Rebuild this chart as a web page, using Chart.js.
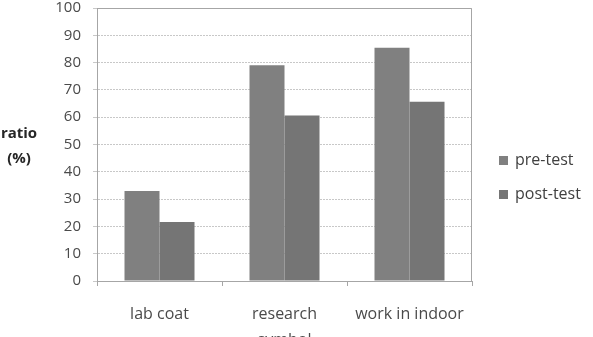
<!DOCTYPE html>
<html>
<head>
<meta charset="utf-8">
<script src="https://cdn.jsdelivr.net/npm/chart.js@4/dist/chart.umd.min.js"></script>
<style>
html,body{margin:0;padding:0;background:#fff;}
#wrap{position:relative;width:593px;height:337px;}
</style>
</head>
<body>
<div id="wrap"><canvas id="c" width="593" height="337"></canvas></div>
<script>
const categories = ['lab coat', ['research', 'symbol'], 'work in indoor'];
const seriesNames = ['pre-test', 'post-test'];
const preTest = [33, 79, 85.4];
const postTest = [21.6, 60.6, 65.7];
const yTicks = [0, 10, 20, 30, 40, 50, 60, 70, 80, 90, 100];
const yTitle = ['ratio', '(%)'];
const seriesColors = ['#808080', '#757575'];

const FONT = "'Open Sans', 'Liberation Sans', sans-serif";
const TXT = '#4a4a4a';

const frame = {
  id: 'frame',
  beforeDatasetsDraw(chart) {
    const {ctx, chartArea: a} = chart;
    ctx.save();
    ctx.strokeStyle = '#a6a6a6';
    ctx.lineWidth = 1;
    ctx.beginPath();
    ctx.moveTo(a.left, a.top + 0.5);
    ctx.lineTo(a.right - 0.5, a.top + 0.5);
    ctx.lineTo(a.right - 0.5, a.bottom);
    ctx.stroke();
    ctx.restore();
  },
  afterDraw(chart) {
    const {ctx, chartArea: a} = chart;
    ctx.save();
    // y-axis title (horizontal, two lines)
    ctx.fillStyle = '#262626';
    ctx.font = "bold 15px " + FONT;
    ctx.textAlign = 'center';
    ctx.textBaseline = 'middle';
    ctx.fillText(yTitle[0], 19, 134);
    ctx.fillText(yTitle[1], 19, 159);
    // legend
    ctx.font = "16px " + FONT;
    ctx.textAlign = 'left';
    chart.data.datasets.forEach((ds, i) => {
      const cy = 160.5 + i * 34;
      ctx.fillStyle = ds.backgroundColor;
      ctx.fillRect(499, cy - 4.5, 9, 9);
      ctx.fillStyle = '#404040';
      ctx.fillText(ds.label, 515, cy);
    });
    ctx.restore();
  }
};

new Chart(document.getElementById('c'), {
  type: 'bar',
  data: {
    labels: categories,
    datasets: [
      {label: seriesNames[0], data: preTest, backgroundColor: seriesColors[0], borderWidth: 0},
      {label: seriesNames[1], data: postTest, backgroundColor: seriesColors[1], borderWidth: 0}
    ]
  },
  options: {
    responsive: false,
    animation: false,
    layout: {padding: {top: 8, right: 121, left: 0, bottom: 0}},
    datasets: {bar: {categoryPercentage: 0.56, barPercentage: 1.0}},
    plugins: {
      tooltip: {enabled: false},
      legend: {display: false}
    },
    scales: {
      x: {
        afterFit(s) { s.height = 56; s.paddingLeft = 0; s.paddingRight = 0; },
        grid: {display: true, drawOnChartArea: false, drawTicks: true, tickLength: 5, color: '#a6a6a6', offset: true},
        border: {display: true, color: '#a6a6a6'},
        ticks: {color: TXT, font: {family: FONT, size: 16, lineHeight: 1.65}, padding: 15, maxRotation: 0, autoSkip: false}
      },
      y: {
        min: 0, max: 100,
        afterFit(s) { s.width = 97; s.paddingTop = 0; s.paddingBottom = 0; },
        afterBuildTicks(s) { s.ticks = yTicks.map(v => ({value: v})); },
        grid: {color: '#c8c8c8', tickLength: 4, drawTicks: true},
        border: {display: true, color: '#a6a6a6', dash: [2, 1]},
        ticks: {color: TXT, font: {family: FONT, size: 15}, padding: 12}
      }
    }
  },
  plugins: [frame]
});
</script>
</body>
</html>
